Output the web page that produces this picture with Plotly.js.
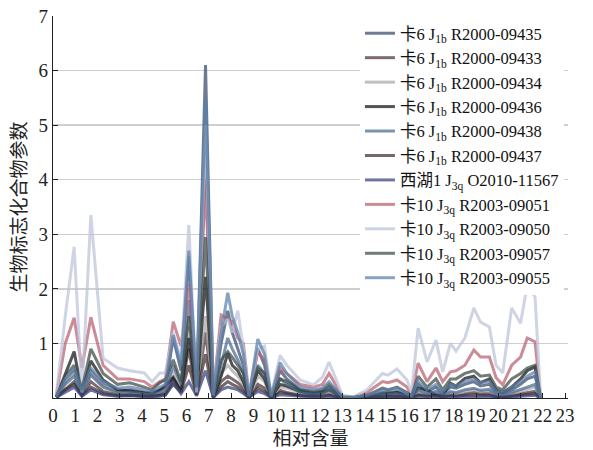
<!DOCTYPE html>
<html>
<head>
<meta charset="utf-8">
<script src="https://cdn.plot.ly/plotly-3.0.1.min.js"></script>
<style>html,body{margin:0;padding:0;background:#fff;}#chart{width:593px;height:450px;}</style>
</head>
<body>
<div id="chart"></div>
<script>
// x positions (relative content axis)
const xVals = [0.15,0.55,0.95,1.3,1.7,2.25,2.9,3.45,4.1,4.45,4.8,5.05,5.4,5.75,6.1,6.45,6.85,7.2,7.55,7.85,8.05,8.3,8.55,8.8,9.2,9.5,9.8,10.2,10.5,11.1,11.7,12.1,12.4,13.0,13.5,14.1,14.8,15.05,15.45,15.9,16.1,16.4,16.8,17.2,17.5,17.85,18.1,18.5,18.9,19.2,19.6,19.9,20.2,20.6,21.0,21.3,21.65,21.9];

const seriesNames = [
  "卡6 J<sub>1b</sub> R2000-09435",
  "卡6 J<sub>1b</sub> R2000-09433",
  "卡6 J<sub>1b</sub> R2000-09434",
  "卡6 J<sub>1b</sub> R2000-09436",
  "卡6 J<sub>1b</sub> R2000-09438",
  "卡6 J<sub>1b</sub> R2000-09437",
  "西湖1 J<sub>3q</sub> O2010-11567",
  "卡10 J<sub>3q</sub> R2003-09051",
  "卡10 J<sub>3q</sub> R2003-09050",
  "卡10 J<sub>3q</sub> R2003-09057",
  "卡10 J<sub>3q</sub> R2003-09055"
];

const s09435 = [0.02,0.3,0.5,0.1,0.5,0.25,0.12,0.15,0.1,0.1,0.15,0.2,1.1,0.5,2.6,0.15,6.1,0.05,1.0,1.6,1.2,0.9,0.6,0.02,0.9,0.6,0.02,0.5,0.35,0.15,0.1,0.12,0.2,0.01,0,0.03,0.1,0.1,0.12,0.05,0.02,0.25,0.12,0.2,0.08,0.2,0.18,0.25,0.3,0.22,0.25,0.1,0.08,0.15,0.25,0.35,0.4,0];
const s09433 = [0.01,0.15,0.3,0.05,0.3,0.12,0.06,0.06,0.05,0.04,0.06,0.1,0.35,0.15,0.9,0.06,1.2,0.02,0.3,0.4,0.35,0.28,0.18,0.01,0.25,0.18,0.01,0.14,0.1,0.05,0.04,0.05,0.08,0,0,0.01,0.04,0.04,0.05,0.02,0,0.08,0.05,0.06,0.03,0.06,0.05,0.08,0.1,0.08,0.09,0.03,0.02,0.05,0.08,0.1,0.12,0];
const s09434 = [0.02,0.3,0.45,0.1,0.45,0.22,0.12,0.12,0.1,0.08,0.12,0.18,0.5,0.2,1.3,0.12,1.5,0.03,0.45,0.6,0.5,0.4,0.25,0.02,0.4,0.3,0.02,0.2,0.18,0.1,0.06,0.08,0.12,0.01,0,0.02,0.06,0.06,0.07,0.03,0.01,0.12,0.08,0.1,0.04,0.1,0.08,0.12,0.15,0.12,0.13,0.05,0.04,0.08,0.12,0.16,0.2,0];
const s09436 = [0.02,0.45,0.85,0.1,0.68,0.33,0.15,0.13,0.1,0.08,0.15,0.22,0.38,0.12,1.1,0.1,2.22,0.02,0.4,0.82,0.6,0.5,0.3,0.02,0.5,0.35,0.02,0.25,0.22,0.12,0.08,0.1,0.15,0.01,0,0.02,0.08,0.08,0.1,0.05,0.02,0.18,0.15,0.05,0.05,0.27,0.22,0.36,0.4,0.28,0.35,0.15,0.1,0.2,0.35,0.5,0.57,0];
const s09438 = [0.02,0.25,0.4,0.08,0.42,0.2,0.1,0.1,0.08,0.06,0.1,0.15,0.6,0.25,1.8,0.1,4.5,0.03,0.6,1.1,0.9,0.7,0.45,0.02,0.6,0.45,0.02,0.35,0.25,0.1,0.08,0.08,0.15,0.01,0,0.02,0.08,0.07,0.08,0.04,0.01,0.15,0.08,0.12,0.05,0.12,0.1,0.15,0.18,0.14,0.16,0.06,0.05,0.1,0.15,0.2,0.25,0];
const s09437 = [0.01,0.15,0.25,0.05,0.2,0.08,0.04,0.05,0.03,0.03,0.05,0.06,0.25,0.1,0.6,0.05,0.8,0.01,0.2,0.3,0.25,0.2,0.12,0.01,0.18,0.12,0.01,0.1,0.08,0.04,0.03,0.03,0.05,0,0,0.01,0.03,0.03,0.03,0.01,0,0.05,0.03,0.04,0.02,0.04,0.03,0.05,0.06,0.05,0.05,0.02,0.01,0.03,0.05,0.06,0.08,0];
const s11567 = [0.01,0.1,0.2,0.03,0.15,0.06,0.03,0.04,0.03,0.02,0.03,0.05,0.3,0.08,0.3,0.04,0.5,0.01,0.15,0.2,0.18,0.15,0.08,0.01,0.12,0.08,0.01,0.06,0.05,0.03,0.02,0.02,0.03,0,0,0.01,0.02,0.02,0.02,0.01,0,0.03,0.02,0.03,0.01,0.03,0.02,0.03,0.02,0.02,0.03,0.01,0.01,0.02,0.03,0.04,0.05,0];
const s09051 = [0.05,1.0,1.47,0.55,1.48,0.6,0.35,0.35,0.3,0.2,0.3,0.35,1.4,0.95,2.1,0.3,4.0,0.1,1.52,1.45,1.4,1.1,1.0,0.05,0.85,0.7,0.05,0.55,0.45,0.25,0.2,0.25,0.45,0.03,0.02,0.1,0.3,0.28,0.33,0.2,0.05,0.64,0.3,0.55,0.3,0.48,0.5,0.6,0.88,0.75,0.75,0.37,0.24,0.6,0.75,1.1,1.03,0];
const s09050 = [0.05,1.5,2.77,0.1,3.35,0.73,0.55,0.5,0.46,0.3,0.46,0.46,1.2,0.7,3.17,0.1,5.0,0.05,1.3,1.45,1.2,1.6,0.9,0.05,0.9,0.95,0.05,0.78,0.6,0.33,0.24,0.38,0.66,0.05,0.02,0.15,0.45,0.42,0.53,0.33,0.1,1.28,0.66,1.06,0.48,1.0,0.86,1.1,1.65,1.39,1.3,0.6,0.46,1.65,1.37,2.07,1.85,0];
const s09057 = [0.03,0.4,0.6,0.15,0.9,0.45,0.25,0.28,0.2,0.15,0.28,0.33,0.7,0.3,1.5,0.2,2.95,0.05,0.7,0.85,0.75,0.6,0.45,0.03,0.55,0.45,0.03,0.35,0.3,0.15,0.12,0.15,0.25,0.02,0.01,0.05,0.18,0.15,0.2,0.1,0.03,0.4,0.2,0.35,0.15,0.35,0.35,0.45,0.5,0.4,0.42,0.2,0.15,0.35,0.45,0.55,0.6,0];
const s09055 = [0.02,0.35,0.55,0.12,0.55,0.3,0.18,0.2,0.15,0.12,0.2,0.25,1.15,0.6,2.7,0.2,5.5,0.05,1.2,1.93,1.5,1.2,0.8,0.03,1.08,0.8,0.03,0.65,0.45,0.2,0.15,0.18,0.3,0.02,0.01,0.05,0.15,0.15,0.18,0.08,0.03,0.3,0.15,0.25,0.1,0.25,0.22,0.3,0.35,0.28,0.3,0.12,0.1,0.2,0.3,0.4,0.48,0];

const seriesValues = [s09435,s09433,s09434,s09436,s09438,s09437,s11567,s09051,s09050,s09057,s09055];
const seriesColors = ['#34486a','#4a3236','#a8a8a8','#111111','#4a6a90','#3e2c2c','#34407a','#b8606f','#bcc3da','#3a4a44','#5a80aa'];

const xTicks = [0,1,2,3,4,5,6,7,8,9,10,11,12,13,14,15,16,17,18,19,20,21,22,23];
const yTicks = [1,2,3,4,5,6,7];

const traces = seriesNames.map((n,i)=>({
  type:'scatter', mode:'lines', name:n,
  x:xVals, y:seriesValues[i],
  line:{color:seriesColors[i], width:3},
  opacity:0.72
}));

const serif = 'Liberation Serif, Times New Roman, serif';
const cjk = 'Noto Sans CJK SC, sans-serif';

const layout = {
  width:593, height:450,
  margin:{l:53, r:25, t:16, b:52},
  paper_bgcolor:'#fff', plot_bgcolor:'#fff',
  showlegend:true,
  legend:{x:0.596, y:1, xanchor:'left', yanchor:'top', bgcolor:'#fff',
    font:{family:serif+', '+cjk, size:16.5, color:'#111'}, tracegroupgap:0, itemwidth:30},
  xaxis:{range:[0,23.13], tickvals:xTicks, ticktext:xTicks.map(String),
    showgrid:false, zeroline:false, showline:true, linecolor:'#222', linewidth:1.2,
    ticks:'inside', ticklen:5, tickcolor:'#222',
    tickfont:{family:serif, size:19, color:'#222'},
    title:{text:'相对含量', font:{family:cjk, size:19, color:'#222'}, standoff:9}},
  yaxis:{range:[0,7], tickvals:yTicks, ticktext:yTicks.map(String),
    showgrid:true, gridcolor:'#cfcfcf', gridwidth:1.5, zeroline:false,
    showline:true, linecolor:'#222', linewidth:1.2,
    ticks:'inside', ticklen:5, tickcolor:'#222',
    tickfont:{family:serif, size:19, color:'#222'},
    title:{text:'生物标志化合物参数', font:{family:cjk, size:19, color:'#222'}, standoff:6}}
};

Plotly.newPlot('chart', traces, layout, {displayModeBar:false, staticPlot:true});
</script>
</body>
</html>
